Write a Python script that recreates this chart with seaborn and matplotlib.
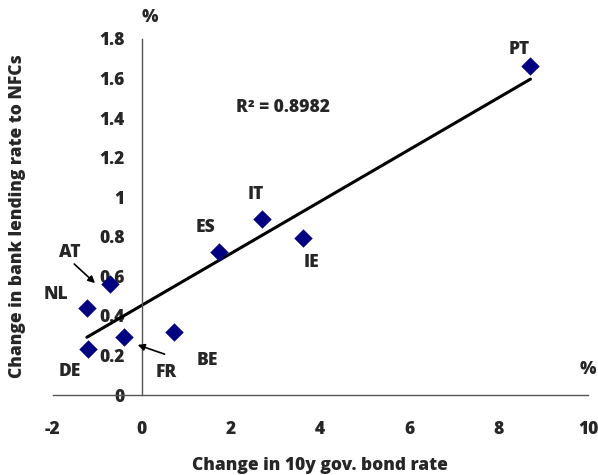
import numpy as np
import pandas as pd
import matplotlib
matplotlib.use("Agg")
import matplotlib.pyplot as plt
import seaborn as sns

# data
countries = ['PT', 'IT', 'IE', 'ES', 'AT', 'NL', 'DE', 'FR', 'BE']
bond_chg = [8.71, 2.70, 3.62, 1.73, -0.71, -1.23, -1.20, -0.40, 0.73]
lend_chg = [1.663, 0.89, 0.792, 0.724, 0.56, 0.441, 0.233, 0.292, 0.317]
# label offsets in pixels (dx, dy) from the marker
label_off = [(-11, 17), (-6, 24), (8, -24), (-13, 24), (-40, 32),
             (-31, 13), (-18, -23), (42, -35), (33, -28)]
xticks = [-2, 0, 2, 4, 6, 8, 10]
yticks = [0, 0.2, 0.4, 0.6, 0.8, 1, 1.2, 1.4, 1.6, 1.8]

df = pd.DataFrame({'country': countries, 'x': bond_chg, 'y': lend_chg})

sns.set_style("white")
plt.rcParams['font.family'] = ['Open Sans', 'DejaVu Sans']
WT = 'heavy'
plt.rcParams['font.weight'] = WT

W, H = 598, 475
fig = plt.figure(figsize=(W / 100, H / 100), dpi=100)
ax = fig.add_axes([52.5 / W, 80 / H, (588 - 52.5) / W, (395 - 39) / H])

# trend line
sns.regplot(data=df, x='x', y='y', scatter=False, ci=None, truncate=True,
            color='black', line_kws={'linewidth': 2.2}, ax=ax)
sns.scatterplot(data=df, x='x', y='y', marker='D', s=88, color='#000080',
                linewidth=0, ax=ax, zorder=5)

ax.set_xlim(-2, 10)
ax.set_ylim(0, 1.8)
ax.set_xticks(xticks)
ax.set_yticks(yticks)
ax.set_xticklabels([str(t) for t in xticks])
ax.set_yticklabels(['0', '0.2', '0.4', '0.6', '0.8', '1', '1.2', '1.4', '1.6', '1.8'])
ax.set_xlabel('')
ax.set_ylabel('')

for s in ['top', 'right']:
    ax.spines[s].set_visible(False)
ax.spines['left'].set_position(('data', 0))
ax.spines['bottom'].set_position(('data', 0))
for s in ['left', 'bottom']:
    ax.spines[s].set_color('#555555')
    ax.spines[s].set_linewidth(1.0)

ax.tick_params(axis='x', direction='out', length=5, width=1, color='#555555',
               pad=14, labelsize=12.5)
ax.tick_params(axis='y', direction='out', length=4.5, width=1, color='#555555',
               pad=8, labelsize=12.5)
for lab in ax.get_xticklabels() + ax.get_yticklabels():
    lab.set_fontweight(WT)

# country labels
for c, x, y, (dx, dy) in zip(countries, bond_chg, lend_chg, label_off):
    ax.annotate(c, (x, y), xytext=(dx, dy), textcoords='offset pixels',
                ha='center', va='center', fontsize=12.5, fontweight=WT)

# arrows for AT and FR
ax.annotate('', xy=(-1.00, 0.556), xytext=(-1.56, 0.672),
            arrowprops=dict(arrowstyle='-|>', color='black', lw=1.2,
                            mutation_scale=10))
ax.annotate('', xy=(-0.15, 0.258), xytext=(0.57, 0.202),
            arrowprops=dict(arrowstyle='-|>', color='black', lw=1.2,
                            mutation_scale=10))

ax.text(3.17, 1.456, 'R² = 0.8982', ha='center', va='center',
        fontsize=12.5, fontweight=WT)

fig.text(150 / W, 1 - 18 / H, '%', ha='center', va='center',
         fontsize=12.5, fontweight=WT)
fig.text(588 / W, 1 - 370 / H, '%', ha='center', va='center',
         fontsize=12.5, fontweight=WT)
fig.text(320 / W, 1 - 465 / H, 'Change in 10y gov. bond rate',
         ha='center', va='center', fontsize=12.5, fontweight=WT)
fig.text(18 / W, 1 - 216 / H, 'Change in bank lending rate to NFCs',
         ha='center', va='center', rotation=90, fontsize=12.5,
         fontweight=WT)

fig.savefig('out.png', dpi=100)
